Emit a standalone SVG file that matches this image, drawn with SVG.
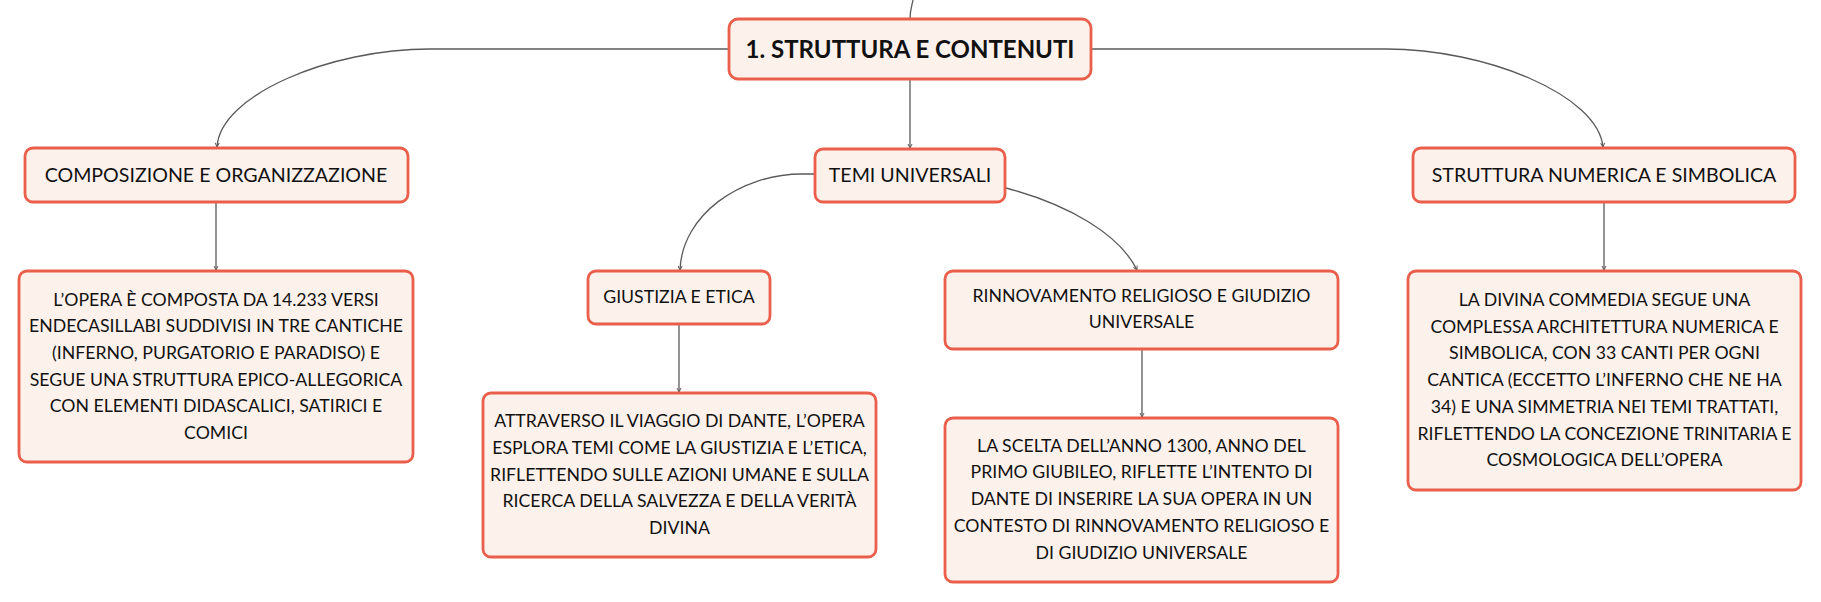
<svg xmlns="http://www.w3.org/2000/svg" width="1821" height="602" viewBox="0 0 1821 602">
<style>
.box{fill:#fdf1ec;stroke:#ea5f4b;stroke-width:2.8}
.c{fill:none;stroke:#5a5a5a;stroke-width:1.3}
text{font-family:Lato,"Open Sans","Liberation Sans",sans-serif;fill:#111;text-anchor:middle}
.t{font-size:24px;font-weight:bold}
.l1{font-size:19.6px}
.b{font-size:17.7px}
</style>
<defs>
<marker id="a" markerWidth="6" markerHeight="6" refX="5" refY="3" orient="auto" markerUnits="userSpaceOnUse">
<path d="M1,1 L5,3 L1,5" fill="none" stroke="#5a5a5a" stroke-width="1"/>
</marker>
</defs>
<g id="connectors">
<path class="c" d="M910,19 C910,10 912,5 913,0"/>
<path class="c" d="M729,49 L430,49 C330,49 220,95 217,147" marker-end="url(#a)"/>
<path class="c" d="M1091,49 L1386,49 C1486,49 1598,95 1603,147" marker-end="url(#a)"/>
<path class="c" d="M910,79 L910,148" marker-end="url(#a)"/>
<path class="c" d="M815,174 L802,174 C740,174 682,215 680,270" marker-end="url(#a)"/>
<path class="c" d="M1006,188 C1070,205 1120,235 1137,270" marker-end="url(#a)"/>
<path class="c" d="M216,202 L216,270" marker-end="url(#a)"/>
<path class="c" d="M679,324 L679,392" marker-end="url(#a)"/>
<path class="c" d="M1142,349 L1142,417" marker-end="url(#a)"/>
<path class="c" d="M1604,202 L1604,270" marker-end="url(#a)"/>
</g>
<g id="root">
<rect class="box" x="729" y="19" width="362" height="60" rx="9"/>
<text class="t" x="910" y="57.5">1. STRUTTURA E CONTENUTI</text>
</g>
<g id="composizione">
<rect class="box" x="25" y="148" width="383" height="54" rx="8"/>
<text class="l1" x="216" y="182">COMPOSIZIONE E ORGANIZZAZIONE</text>
</g>
<g id="temi">
<rect class="box" x="815" y="149" width="190" height="53" rx="8"/>
<text class="l1" x="910" y="182">TEMI UNIVERSALI</text>
</g>
<g id="struttura-numerica">
<rect class="box" x="1413" y="148" width="382" height="54" rx="8"/>
<text class="l1" x="1604" y="182">STRUTTURA NUMERICA E SIMBOLICA</text>
</g>
<g id="opera">
<rect class="box" x="19" y="271" width="394" height="191" rx="8"/>
<text class="b" x="216"><tspan x="216" y="305.5">L’OPERA È COMPOSTA DA 14.233 VERSI</tspan><tspan x="216" y="332.2">ENDECASILLABI SUDDIVISI IN TRE CANTICHE</tspan><tspan x="216" y="358.9">(INFERNO, PURGATORIO E PARADISO) E</tspan><tspan x="216" y="385.6">SEGUE UNA STRUTTURA EPICO-ALLEGORICA</tspan><tspan x="216" y="412.3">CON ELEMENTI DIDASCALICI, SATIRICI E</tspan><tspan x="216" y="439">COMICI</tspan></text>
</g>
<g id="giustizia">
<rect class="box" x="588" y="271" width="182" height="53" rx="8"/>
<text class="b" x="679" y="303">GIUSTIZIA E ETICA</text>
</g>
<g id="attraverso">
<rect class="box" x="483" y="393" width="393" height="164" rx="8"/>
<text class="b" x="679.5"><tspan x="679.5" y="427.3">ATTRAVERSO IL VIAGGIO DI DANTE, L’OPERA</tspan><tspan x="679.5" y="454">ESPLORA TEMI COME LA GIUSTIZIA E L’ETICA,</tspan><tspan x="679.5" y="480.7">RIFLETTENDO SULLE AZIONI UMANE E SULLA</tspan><tspan x="679.5" y="507.4">RICERCA DELLA SALVEZZA E DELLA VERITÀ</tspan><tspan x="679.5" y="534">DIVINA</tspan></text>
</g>
<g id="rinnovamento">
<rect class="box" x="945" y="271" width="393" height="78" rx="8"/>
<text class="b" x="1141.5"><tspan x="1141.5" y="301.5">RINNOVAMENTO RELIGIOSO E GIUDIZIO</tspan><tspan x="1141.5" y="328.2">UNIVERSALE</tspan></text>
</g>
<g id="scelta">
<rect class="box" x="945" y="418" width="393" height="164" rx="8"/>
<text class="b" x="1141.5"><tspan x="1141.5" y="451.7">LA SCELTA DELL’ANNO 1300, ANNO DEL</tspan><tspan x="1141.5" y="478.4">PRIMO GIUBILEO, RIFLETTE L’INTENTO DI</tspan><tspan x="1141.5" y="505.1">DANTE DI INSERIRE LA SUA OPERA IN UN</tspan><tspan x="1141.5" y="531.8">CONTESTO DI RINNOVAMENTO RELIGIOSO E</tspan><tspan x="1141.5" y="558.5">DI GIUDIZIO UNIVERSALE</tspan></text>
</g>
<g id="divina">
<rect class="box" x="1408" y="271" width="393" height="219" rx="8"/>
<text class="b" x="1604.5"><tspan x="1604.5" y="306">LA DIVINA COMMEDIA SEGUE UNA</tspan><tspan x="1604.5" y="332.7">COMPLESSA ARCHITETTURA NUMERICA E</tspan><tspan x="1604.5" y="359.4">SIMBOLICA, CON 33 CANTI PER OGNI</tspan><tspan x="1604.5" y="386.1">CANTICA (ECCETTO L’INFERNO CHE NE HA</tspan><tspan x="1604.5" y="412.8">34) E UNA SIMMETRIA NEI TEMI TRATTATI,</tspan><tspan x="1604.5" y="439.5">RIFLETTENDO LA CONCEZIONE TRINITARIA E</tspan><tspan x="1604.5" y="466.2">COSMOLOGICA DELL’OPERA</tspan></text>
</g>
</svg>
